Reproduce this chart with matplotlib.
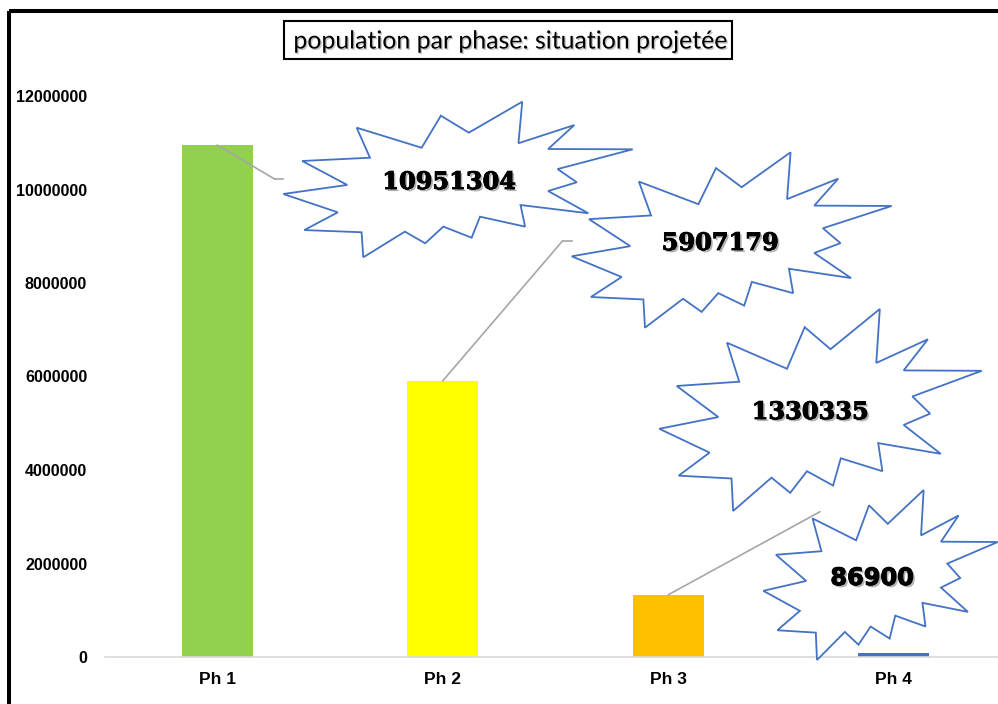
import matplotlib
matplotlib.use("Agg")
import matplotlib.pyplot as plt
from matplotlib.patches import Polygon, Rectangle
from matplotlib.lines import Line2D
import matplotlib.transforms as mtransforms
import matplotlib.patheffects as pe

# ---- data ----
categories = ["Ph 1", "Ph 2", "Ph 3", "Ph 4"]
population = [10951304, 5907179, 1330335, 86900]
bar_colors = ["#92D050", "#FFFF00", "#FFC000", "#4472C4"]
yticks = [0, 2000000, 4000000, 6000000, 8000000, 10000000, 12000000]
title = "population par phase: situation projetée"

W, H = 998, 704
fig = plt.figure(figsize=(W / 100, H / 100), dpi=100)
px = mtransforms.Affine2D().scale(1 / W, -1 / H).translate(0, 1) + fig.transFigure

ax = fig.add_axes([104.5 / W, (H - 657) / H, 902 / W, (657 - 96) / H])
ax.set_xlim(-0.5, 3.5)
ax.set_ylim(0, 12000000)
ax.bar(range(len(categories)), population, width=0.315, color=bar_colors, zorder=2)
for s in ["left", "right", "top"]:
    ax.spines[s].set_visible(False)
ax.spines["bottom"].set_color("#D9D9D9")
ax.spines["bottom"].set_linewidth(1.2)
ax.set_yticks(yticks)
ax.set_yticklabels([str(v) for v in yticks], fontfamily="Liberation Sans", fontweight="bold", fontsize=11.6)
ax.set_xticks(range(len(categories)))
ax.set_xticklabels(categories, fontfamily="Liberation Sans", fontweight="bold", fontsize=12.5)
ax.tick_params(axis="y", length=0, pad=12.5)
ax.tick_params(axis="x", length=0, pad=11)
ax.patch.set_alpha(0)

# outer frame
fig.patches.append(Rectangle((9.5, 10.5), 1200, 900, transform=px, fill=False,
                             edgecolor="black", linewidth=2.9, figure=fig))

# title box
fig.patches.append(Rectangle((284, 21), 448, 38, transform=px, facecolor="white",
                             edgecolor="black", linewidth=1.5, figure=fig))
fig.text(510, 41, title, transform=px, ha="center", va="center", fontsize=17.9,
         fontfamily="Lato",
         path_effects=[pe.withSimplePatchShadow(offset=(1, -1), shadow_rgbFace="#888888", alpha=0.5)])

# explosion shape (normalized outline)
seal = [(0.210, 0.167), (0.396, 0.296), (0.451, 0.090), (0.531, 0.199), (0.684, 0.0),
        (0.673, 0.267), (0.833, 0.150), (0.758, 0.304), (1.0, 0.306), (0.785, 0.433),
        (0.840, 0.518), (0.758, 0.574), (0.873, 0.717), (0.679, 0.664), (0.692, 0.803),
        (0.563, 0.739), (0.539, 0.874), (0.458, 0.803), (0.406, 0.910), (0.348, 0.835),
        (0.229, 1.0), (0.224, 0.839), (0.060, 0.825), (0.156, 0.711), (0.0, 0.593),
        (0.183, 0.535), (0.054, 0.381), (0.248, 0.360)]

burst_boxes = [(283.3, 101.7, 632.7, 257.3), (571.7, 152.3, 891.7, 327.7),
               (659.3, 309.0, 981.7, 511.0), (763.3, 490.0, 997.7, 660.0)]
label_pos = [(449, 182), (720, 243), (810, 412), (872, 578)]
label_fonts = ["DejaVu Serif", "DejaVu Serif", "DejaVu Serif", "DejaVu Sans"]
leader_elbow = [(275, 179.3), (562.7, 240.7), (820, 511.7), None]
leader_end = [(283.3, 179.3), (572, 240.7), None, None]

label_fx = [pe.withSimplePatchShadow(offset=(1.5, -1.5), shadow_rgbFace="#555555", alpha=0.45),
            pe.withStroke(linewidth=0.7, foreground="black")]

for i, val in enumerate(population):
    # leader line
    if leader_elbow[i] is not None:
        ax.annotate("", xy=(i, val), xycoords="data", xytext=leader_elbow[i], textcoords=px,
                    arrowprops=dict(arrowstyle="-", color="#A6A6A6", lw=1.2,
                                    shrinkA=0, shrinkB=0), zorder=3, annotation_clip=False)
    if leader_end[i] is not None:
        fig.lines.append(Line2D([leader_elbow[i][0], leader_end[i][0]],
                                [leader_elbow[i][1], leader_end[i][1]],
                                transform=px, color="#A6A6A6", lw=1.2, figure=fig))
    x0, y0, x1, y1 = burst_boxes[i]
    pts = [(x0 + u * (x1 - x0), y0 + v * (y1 - y0)) for u, v in seal]
    poly = Polygon(pts, closed=True, transform=px, facecolor="white",
                   edgecolor="#4472C4", linewidth=1.3, zorder=4 + i)
    fig.patches.append(poly)
    fig.text(label_pos[i][0], label_pos[i][1], f"{val}", transform=px, ha="center",
             va="center", fontsize=17.3, fontweight="bold", fontfamily=label_fonts[i],
             zorder=10 + i, path_effects=label_fx)

fig.savefig("out.png", dpi=100)
